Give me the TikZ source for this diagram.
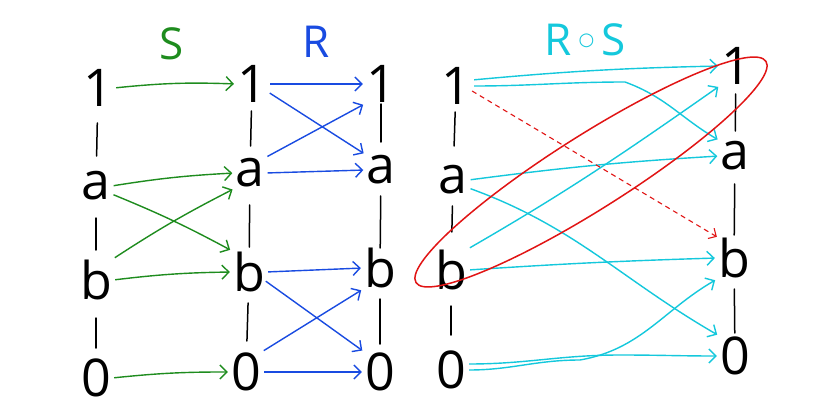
\documentclass[tikz,border=0pt]{standalone}
\usepackage{fontspec}
\setmainfont{Open Sans}
\newfontfamily\symfont{DejaVu Sans}
\usetikzlibrary{arrows.meta}
\definecolor{sgreen}{RGB}{30,140,30}
\definecolor{rblue}{RGB}{25,75,225}
\definecolor{rcyan}{RGB}{20,200,220}
\definecolor{hred}{RGB}{225,20,20}
\tikzset{
  elem/.style={font=\fontsize{52}{52}\selectfont\color{black}, inner sep=1pt},
  ttl/.style={font=\fontsize{44}{44}\selectfont},
  tick/.style={draw=black, line width=1.5pt, line cap=round},
  arr/.style={line width=1.4pt, -{Straight Barb[length=7pt,width=14pt,line width=1.4pt]}, shorten >=2pt, shorten <=2pt},
  garr/.style={arr, draw=sgreen},
  barr/.style={arr, draw=rblue},
  carr/.style={arr, draw=rcyan},
}
\newcommand{\tk}[4]{\draw[tick, shorten <=#3pt, shorten >=#4pt] (#1.center) -- (#2.center);}
\begin{document}
\begin{tikzpicture}[x=1pt,y=-1pt]
\useasboundingbox[fill=white] (0,0) rectangle (840,420);
% titles
\node[ttl, text=sgreen] (tS) at (172,44) {S};
\node[ttl, text=rblue] (tR) at (316,42) {R};
\node[ttl, text=rcyan] (tRS) at (585,40) {R\,\raisebox{10pt}{\symfont\fontsize{18}{18}\selectfont ○}\,S};
% column 1
\node[elem] (a1) at (98,88) {1};
\node[elem] (aa) at (96,186) {a};
\node[elem] (ab) at (96,280) {b};
\node[elem] (a0) at (96,378) {0};
% column 2
\node[elem] (b1) at (252,84) {1};
\node[elem] (ba) at (250,173) {a};
\node[elem] (bb) at (249,272) {b};
\node[elem] (b0) at (246,372) {0};
% column 3
\node[elem] (c1) at (381,84) {1};
\node[elem] (ca) at (381,170) {a};
\node[elem] (cb) at (380,268) {b};
\node[elem] (c0) at (380,372) {0};
% column 4
\node[elem] (d1) at (456,86) {1};
\node[elem] (da) at (453,180) {a};
\node[elem] (db) at (451,270) {b};
\node[elem] (d0) at (451,370) {0};
% column 5
\node[elem] (e1) at (736,66) {1};
\node[elem] (ea) at (735,156) {a};
\node[elem] (eb) at (734,258) {b};
\node[elem] (e0) at (735,356) {0};
% vertical ticks
\tk{a1}{aa}{35}{30}
\tk{aa}{ab}{32}{30}
\tk{ab}{a0}{38}{30}
\tk{b1}{ba}{27}{27}
\tk{ba}{bb}{32}{25}
\tk{bb}{b0}{31}{31}
\tk{c1}{ca}{20}{28}
\tk{ca}{cb}{26}{20}
\tk{cb}{c0}{31}{28}
\tk{d1}{da}{26}{34}
\tk{da}{db}{26}{38}
\tk{db}{d0}{36}{35}
\tk{e1}{ea}{28}{25}
\tk{ea}{eb}{28}{23}
\tk{eb}{e0}{31}{23}
% S arrows
\draw[garr] (a1.east) to[bend left=4] (b1.west);
\draw[garr] (aa.east) to[bend left=3] (ba.west);
\draw[garr] (aa.east) ++(0,8) to[bend left=3] (bb.north west);
\draw[garr] (ab.north east) to[bend left=3] (ba.south west);
\draw[garr] (ab.east) to[bend left=3] (bb.west);
\draw[garr] (a0.east) to[bend left=3] (b0.west);
% R arrows
\draw[barr] (b1.east) -- (c1.west);
\draw[barr] (b1.east) ++(0,8) -- (ca.north west);
\draw[barr] (ba.north east) -- (c1.south west);
\draw[barr] (ba.east) -- (ca.west);
\draw[barr] (bb.east) -- (cb.west);
\draw[barr] (bb.east) ++(-2,8) -- (c0.north west);
\draw[barr] (b0.north east) -- (cb.south west);
\draw[barr] (b0.east) -- (c0.west);
% R o S arrows
\draw[carr] (d1.east) ++(0,-6) to[bend left=2] (e1.west);
\draw[carr] (d1.east) ++(0,0) to[out=0,in=180] (625,82) to[out=-20,in=150] (ea.north west);
\draw[carr] (db.north east) to[out=30,in=215] (e1.south west);
\draw[carr] (da.east) to[bend left=2] (ea.west);
\draw[carr] (da.east) ++(0,8) to[out=-20,in=150] (e0.north west);
\draw[carr] (db.east) to[bend left=1] (eb.west);
\draw[carr] (d0.east) to[out=0,in=180] (580,360) to[out=10,in=210] (eb.south west);
\draw[carr] (d0.east) ++(0,-6) to[out=0,in=180] (620,355) to[out=0,in=180] (e0.west);
\draw[hred, line width=1.1pt, dashed, dash pattern=on 5pt off 4pt, -{Straight Barb[length=6pt,width=12pt,line width=1.1pt]}] (d1.east) ++(0,5) -- (eb.north west);
% red ellipse
\draw[hred, line width=1.5pt, rotate around={32.3:(591,172)}] (591,172) ellipse[x radius=207, y radius=37];
\end{tikzpicture}
\end{document}
